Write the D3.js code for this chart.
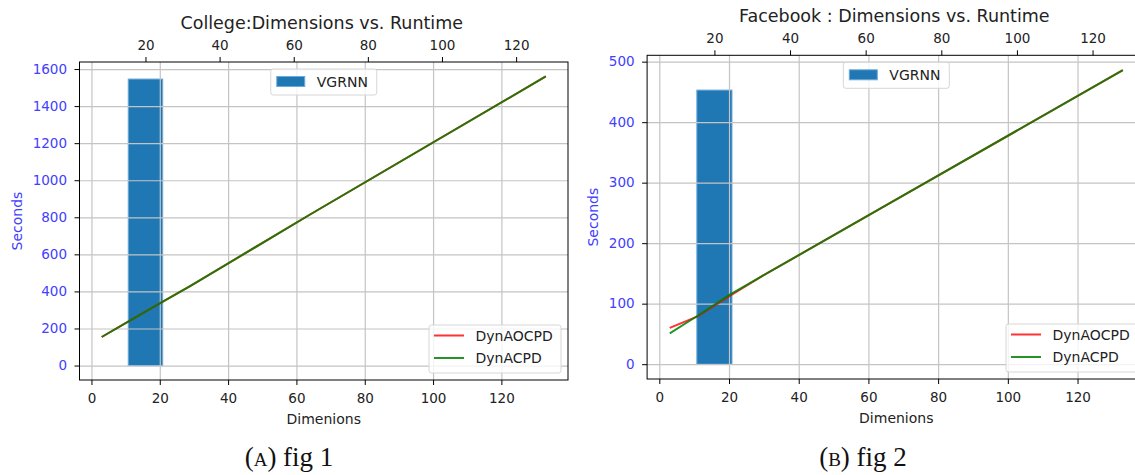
<!DOCTYPE html>
<html>
<head>
<meta charset="utf-8">
<script src="https://cdn.jsdelivr.net/npm/d3@7"></script>
<style>
  body { margin: 0; background: #fff; }
  svg { display: block; }
  .tick text { font-family: "DejaVu Sans", sans-serif; font-size: 13.5px; fill: #222; }
</style>
</head>
<body>
<div id="chart"></div>
<script>
// values
const dims = [3, 11, 20, 29, 64, 133];
const collegeAOCPD = [154, 240, 335, 430, 815, 1560];
const collegeACPD = [154, 240, 335, 430, 815, 1560];
const facebookAOCPD = [60, 79, 112, 144, 259, 486];
const facebookACPD = [51, 80, 114, 144, 259, 486];

const vgrnnDims = [20];
const vgrnnWidth = 9.3;
const collegeVGRNN = [1546];
const facebookVGRNN = [453];

const xTicks = [0, 20, 40, 60, 80, 100, 120];
const topTicks = [20, 40, 60, 80, 100, 120];
const collegeYTicks = [0, 200, 400, 600, 800, 1000, 1200, 1400, 1600];
const facebookYTicks = [0, 100, 200, 300, 400, 500];

const seriesNames = ["DynAOCPD", "DynACPD"];
const seriesColors = ["#ff0000", "#008000"];
const seriesOpacity = [0.8, 0.85];

const width = 1135, height = 475;
const font = '"DejaVu Sans", sans-serif';
const blue = "#4040ff";
const barColor = "#1f77b4";
const fmt = d3.format("d");

const panels = [
  { title: "College:Dimensions vs. Runtime", tag: "a", caption: " fig 1",
    series: [collegeAOCPD, collegeACPD], vgrnn: collegeVGRNN, yTicks: collegeYTicks,
    yDomain: [-78, 1638], left: 79.5, right: 568, top: 62, bottom: 380, captionX: 289 },
  { title: "Facebook : Dimensions vs. Runtime", tag: "b", caption: " fig 2",
    series: [facebookAOCPD, facebookACPD], vgrnn: facebookVGRNN, yTicks: facebookYTicks,
    yDomain: [-24.5, 510.5], left: 647.1, right: 1145.5, top: 55.3, bottom: 379, captionX: 863 }
];

const svg = d3.select("#chart").append("svg")
  .attr("width", width)
  .attr("height", height);

panels.forEach(drawPanel);

function drawPanel(p) {
  const x = d3.scaleLinear().domain([-3.5, 139.5]).range([p.left, p.right]);
  const xTop = d3.scaleLinear().domain([2.2, 134]).range([p.left, p.right]);
  const y = d3.scaleLinear().domain(p.yDomain).range([p.bottom, p.top]);
  const w = p.right - p.left, h = p.bottom - p.top;

  const g = svg.append("g");

  // VGRNN bar (twin axis, drawn underneath)
  g.selectAll("rect.bar")
    .data(vgrnnDims)
    .join("rect")
    .attr("class", "bar")
    .attr("x", d => xTop(d - vgrnnWidth / 2))
    .attr("width", d => xTop(d + vgrnnWidth / 2) - xTop(d - vgrnnWidth / 2))
    .attr("y", (d, i) => y(p.vgrnn[i]))
    .attr("height", (d, i) => y(0) - y(p.vgrnn[i]))
    .attr("fill", barColor)
    .attr("stroke", "#6fa9d9")
    .attr("stroke-width", 1);

  // grid
  g.append("g")
    .attr("transform", `translate(0,${p.bottom})`)
    .call(d3.axisBottom(x).tickValues(xTicks).tickSize(-h).tickFormat(""))
    .call(a => a.select(".domain").remove())
    .call(a => a.selectAll("line").attr("stroke", "#c4c4c4").attr("stroke-width", 1.2));
  g.append("g")
    .attr("transform", `translate(${p.left},0)`)
    .call(d3.axisLeft(y).tickValues(p.yTicks).tickSize(-w).tickFormat(""))
    .call(a => a.select(".domain").remove())
    .call(a => a.selectAll("line").attr("stroke", "#c4c4c4").attr("stroke-width", 1.2));

  // lines
  const line = d3.line()
    .x((d, i) => x(dims[i]))
    .y(d => y(d));
  p.series.forEach((s, k) => {
    g.append("path")
      .datum(s)
      .attr("d", line)
      .attr("fill", "none")
      .attr("stroke", seriesColors[k])
      .attr("stroke-opacity", seriesOpacity[k])
      .attr("stroke-width", 2);
  });

  // spines
  g.append("rect")
    .attr("x", p.left).attr("y", p.top)
    .attr("width", w).attr("height", h)
    .attr("fill", "none").attr("stroke", "#000").attr("stroke-width", 1);

  // axes
  const bottomAxis = g.append("g")
    .attr("transform", `translate(0,${p.bottom})`)
    .call(d3.axisBottom(x).tickValues(xTicks).tickFormat(fmt).tickSize(5).tickPadding(8).tickSizeOuter(0));
  bottomAxis.select(".domain").remove();

  const topAxis = g.append("g")
    .attr("transform", `translate(0,${p.top})`)
    .call(d3.axisTop(xTop).tickValues(topTicks).tickFormat(fmt).tickSize(5).tickPadding(7.5).tickSizeOuter(0));
  topAxis.select(".domain").remove();

  const leftAxis = g.append("g")
    .attr("transform", `translate(${p.left},0)`)
    .call(d3.axisLeft(y).tickValues(p.yTicks).tickFormat(fmt).tickSize(5).tickPadding(7.5).tickSizeOuter(0));
  leftAxis.select(".domain").remove();
  leftAxis.selectAll("text").style("fill", blue);

  // titles and labels
  g.append("text")
    .attr("x", (p.left + p.right) / 2 - 2)
    .attr("y", p.top - 33.5)
    .attr("text-anchor", "middle")
    .attr("font-family", font)
    .attr("font-size", 17.5)
    .attr("fill", "#222")
    .text(p.title);

  g.append("text")
    .attr("x", (p.left + p.right) / 2)
    .attr("y", p.bottom + 43.5)
    .attr("text-anchor", "middle")
    .attr("font-family", font)
    .attr("font-size", 14)
    .attr("fill", "#222")
    .text("Dimenions");

  const lb = leftAxis.node().getBBox();
  const ly = (p.top + p.bottom) / 2;
  g.append("text")
    .attr("transform", `translate(${p.left + lb.x - 11},${ly})rotate(-90)`)
    .attr("text-anchor", "middle")
    .attr("font-family", font)
    .attr("font-size", 14)
    .attr("fill", blue)
    .text("Seconds");

  // VGRNN legend (upper center)
  const cx = (p.left + p.right) / 2;
  const vg = g.append("g").attr("transform", `translate(${cx - 53},${p.top + 7})`);
  vg.append("rect")
    .attr("width", 106).attr("height", 26).attr("rx", 2.5)
    .attr("fill", "#fff").attr("fill-opacity", 0.8)
    .attr("stroke", "#d6d6d6");
  vg.append("rect")
    .attr("x", 6).attr("y", 7.5).attr("width", 28).attr("height", 10)
    .attr("fill", barColor).attr("stroke", "#6fa9d9");
  vg.append("text")
    .attr("x", 46).attr("y", 13)
    .attr("dy", "0.36em")
    .attr("font-family", font).attr("font-size", 14).attr("fill", "#222")
    .text("VGRNN");

  // line legend (lower right)
  const lg = g.append("g")
    .attr("transform", `translate(${Math.min(p.right, width + 10) - 7 - 132},${p.bottom - 7 - 48})`);
  lg.append("rect")
    .attr("width", 132).attr("height", 48).attr("rx", 2.5)
    .attr("fill", "#fff").attr("fill-opacity", 0.8)
    .attr("stroke", "#d6d6d6");
  seriesNames.forEach((name, k) => {
    const ry = 10.5 + k * 22.5;
    lg.append("line")
      .attr("x1", 5).attr("x2", 35).attr("y1", ry).attr("y2", ry)
      .attr("stroke", seriesColors[k]).attr("stroke-opacity", seriesOpacity[k]).attr("stroke-width", 2);
    lg.append("text")
      .attr("x", 46.5).attr("y", ry)
      .attr("dy", "0.36em")
      .attr("font-family", font).attr("font-size", 14).attr("fill", "#222")
      .text(name);
  });

  // caption
  const cap = g.append("text")
    .attr("x", p.captionX)
    .attr("y", 466)
    .attr("text-anchor", "middle")
    .attr("font-family", '"Liberation Serif", "DejaVu Serif", serif')
    .attr("font-size", 27)
    .attr("fill", "#111");
  cap.append("tspan").text("(");
  cap.append("tspan").style("font-variant", "small-caps").text(p.tag);
  cap.append("tspan").text(")" + p.caption);
}
</script>
</body>
</html>
